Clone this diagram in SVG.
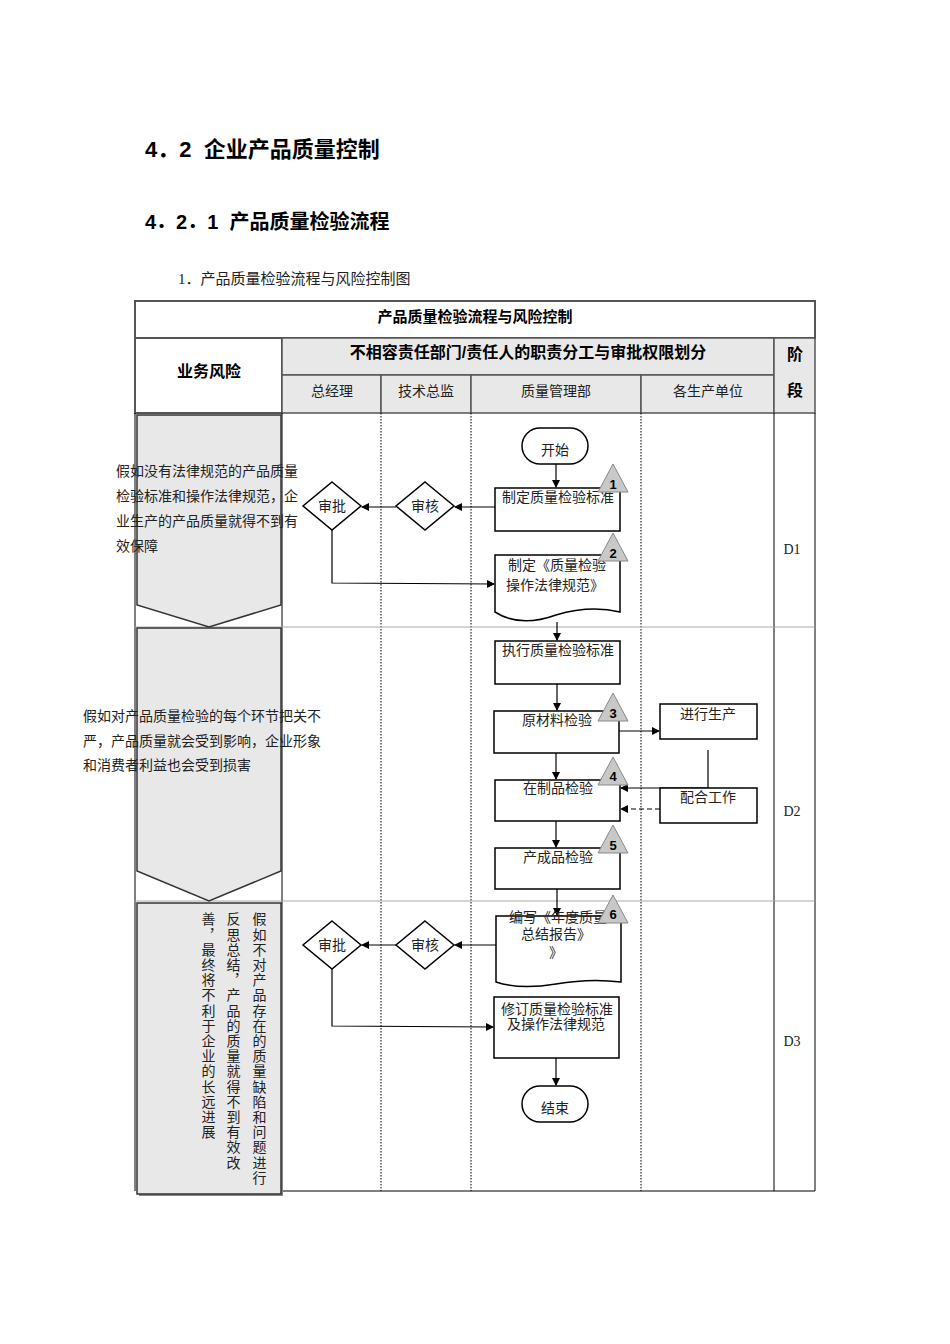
<svg xmlns="http://www.w3.org/2000/svg" width="950" height="1344" viewBox="0 0 950 1344">
<style>
text{font-family:"Liberation Serif","Noto Sans CJK SC",serif;font-size:14px;fill:#222}
.h{font-family:"Liberation Sans","Noto Sans CJK SC",sans-serif;font-weight:bold;fill:#000}
.c{text-anchor:middle}
.box{fill:#fff;stroke:#000;stroke-width:1.5}
.hd{fill:#e8e8e8;stroke:#555;stroke-width:1.5}
.ln{stroke:#000;stroke-width:1.2;fill:none}
.dot{stroke:#000;stroke-width:1;stroke-dasharray:1.5,1.5}
.tri{fill:#c8c8c8;stroke:#888;stroke-width:1}
.risk{fill:#e8e8e8;stroke:#333;stroke-width:1.5}
</style>
<defs><marker id="a" markerWidth="8" markerHeight="8" refX="7" refY="4" orient="auto" markerUnits="userSpaceOnUse"><path d="M0,0L8,4L0,8z" fill="#000"/></marker></defs>
<rect width="950" height="1344" fill="#fff"/>
<text class="h" x="145" y="157" style="font-size:22px">4．2&#160;&#160;企业产品质量控制</text>
<text class="h" x="145" y="229" style="font-size:20px">4．2．1&#160;&#160;产品质量检验流程</text>
<text x="178" y="284" style="font-size:15px">1．产品质量检验流程与风险控制图</text>
<g id="table">
<rect x="135" y="301" width="680" height="37" fill="#fff" stroke="#555" stroke-width="2"/>
<text class="h c" x="475" y="322" style="font-size:15px">产品质量检验流程与风险控制</text>
<rect x="135" y="338" width="147" height="75" fill="#fff" stroke="#555" stroke-width="2"/>
<text class="h c" x="209" y="377" style="font-size:16px">业务风险</text>
<rect x="282" y="338" width="492" height="37" class="hd"/>
<text class="h c" x="528" y="358" style="font-size:16px">不相容责任部门/责任人的职责分工与审批权限划分</text>
<rect x="282" y="375" width="99" height="38" class="hd"/><text class="c" x="332" y="396">总经理</text>
<rect x="381" y="375" width="90" height="38" class="hd"/><text class="c" x="426" y="396">技术总监</text>
<rect x="471" y="375" width="170" height="38" class="hd"/><text class="c" x="556" y="396">质量管理部</text>
<rect x="641" y="375" width="133" height="38" class="hd"/><text class="c" x="708" y="396">各生产单位</text>
<rect x="774" y="338" width="41" height="75" class="hd"/>
<text class="h c" x="795" y="360" style="font-size:16px">阶</text><text class="h c" x="795" y="396" style="font-size:16px">段</text>
<line x1="282" y1="413" x2="282" y2="1191" stroke="#000"/>
<line x1="774" y1="413" x2="774" y2="1191" stroke="#000"/>
<line x1="815" y1="413" x2="815" y2="1191" stroke="#000"/>
<line x1="135" y1="413" x2="135" y2="1191" stroke="#000"/>
<line x1="282" y1="1191" x2="815" y2="1191" stroke="#000"/>
<line x1="381" y1="413" x2="381" y2="1191" class="dot"/>
<line x1="471" y1="413" x2="471" y2="1191" class="dot"/>
<line x1="641" y1="413" x2="641" y2="1191" class="dot"/>
<line x1="135" y1="627" x2="815" y2="627" stroke="#aaa"/>
<line x1="135" y1="901" x2="815" y2="901" stroke="#aaa"/>
<text class="c" x="792" y="554">D1</text>
<text class="c" x="792" y="816">D2</text>
<text class="c" x="792" y="1046">D3</text>
</g>
<g id="risk1"><path class="risk" d="M137,415H281V605L209,627L137,605Z"/>
<text x="116" y="476">假如没有法律规范的产品质量</text><text x="116" y="501">检验标准和操作法律规范，企</text><text x="116" y="526">业生产的产品质量就得不到有</text><text x="116" y="551">效保障</text></g>
<g id="risk2"><path class="risk" d="M137,628H281V871L209,901L137,871Z"/>
<text x="83" y="721">假如对产品质量检验的每个环节把关不</text><text x="83" y="746">严，产品质量就会受到影响，企业形象</text><text x="83" y="770">和消费者利益也会受到损害</text></g>
<g id="risk3"><rect x="139" y="905" width="144" height="291" fill="#888"/><rect class="risk" x="137" y="903" width="144" height="291"/>
<text x="258" y="912" writing-mode="tb" letter-spacing="1.2">假如不对产品存在的质量缺陷和问题进行</text>
<text x="232" y="912" writing-mode="tb" letter-spacing="1.2">反思总结，产品的质量就得不到有效改</text>
<text x="207" y="912" writing-mode="tb" letter-spacing="1.2">善，最终将不利于企业的长远进展</text></g>
<g id="connectors">
<path class="ln" d="M556,464V487" marker-end="url(#a)"/>
<path class="ln" d="M495,507H455" marker-end="url(#a)"/>
<path class="ln" d="M396,507H362" marker-end="url(#a)"/>
<path class="ln" d="M332,530V583L494,584" marker-end="url(#a)"/>
<path class="ln" d="M557,622V640" marker-end="url(#a)"/>
<path class="ln" d="M557,684V710" marker-end="url(#a)"/>
<path class="ln" d="M619,731H659" marker-end="url(#a)"/>
<path class="ln" d="M708,750V788H621" marker-end="url(#a)"/>
<path class="ln" d="M660,809H621" stroke-dasharray="5,3" marker-end="url(#a)"/>
<path class="ln" d="M556,753V779" marker-end="url(#a)"/>
<path class="ln" d="M556,821V847" marker-end="url(#a)"/>
<path class="ln" d="M557,889V915" marker-end="url(#a)"/>
<path class="ln" d="M496,945H455" marker-end="url(#a)"/>
<path class="ln" d="M396,945H362" marker-end="url(#a)"/>
<path class="ln" d="M332,969V1026L493,1027" marker-end="url(#a)"/>
<path class="ln" d="M556,1058V1085" marker-end="url(#a)"/>
</g>
<g id="start"><rect class="box" x="522" y="428" width="66" height="36" rx="18"/><text class="c" x="555" y="455">开始</text></g>
<g id="n1"><rect class="box" x="495" y="488" width="125" height="43"/><text class="c" x="558" y="502">制定质量检验标准</text><path class="tri" d="M613,464L598,492H628Z"/><text class="h c" x="613" y="489" style="font-size:13px">1</text></g>
<g id="d1a"><path class="box" d="M425,482L454,506L425,530L396,506Z"/><text class="c" x="425" y="511">审核</text></g>
<g id="d1b"><path class="box" d="M332,482L361,506L332,530L303,506Z"/><text class="c" x="332" y="511">审批</text></g>
<g id="n2"><path class="box" d="M495,555H620V612Q590,605 556,615Q520,628 495,612Z"/><text class="c" x="557" y="570">制定《质量检验</text><text class="c" x="555" y="590">操作法律规范》</text><path class="tri" d="M613,533L598,561H628Z"/><text class="h c" x="613" y="558" style="font-size:13px">2</text></g>
<g id="n3"><rect class="box" x="495" y="641" width="125" height="43"/><text class="c" x="558" y="655">执行质量检验标准</text></g>
<g id="n4"><rect class="box" x="494" y="711" width="125" height="42"/><text class="c" x="557" y="725">原材料检验</text><path class="tri" d="M613,693L598,721H628Z"/><text class="h c" x="613" y="718" style="font-size:13px">3</text></g>
<g id="n5"><rect class="box" x="660" y="704" width="97" height="35"/><text class="c" x="708" y="719">进行生产</text></g>
<g id="n6"><rect class="box" x="495" y="780" width="125" height="41"/><text class="c" x="558" y="793">在制品检验</text><path class="tri" d="M613,757L598,785H628Z"/><text class="h c" x="613" y="781" style="font-size:13px">4</text></g>
<g id="n7"><rect class="box" x="660" y="788" width="97" height="35"/><text class="c" x="708" y="802">配合工作</text></g>
<g id="n8"><rect class="box" x="495" y="848" width="125" height="41"/><text class="c" x="558" y="862">产成品检验</text><path class="tri" d="M613,825L598,853H628Z"/><text class="h c" x="613" y="850" style="font-size:13px">5</text></g>
<g id="n9"><path class="box" d="M496,916H621V982Q590,978 556,984Q520,990 496,982Z"/><text class="c" x="558" y="922">编写《年度质量</text><text class="c" x="556" y="939">总结报告》</text><text class="c" x="556" y="957">》</text><path class="tri" d="M613,895L598,923H628Z"/><text class="h c" x="613" y="919" style="font-size:13px">6</text></g>
<g id="d2a"><path class="box" d="M425,921L454,945L425,969L396,945Z"/><text class="c" x="425" y="950">审核</text></g>
<g id="d2b"><path class="box" d="M332,921L361,945L332,969L303,945Z"/><text class="c" x="332" y="950">审批</text></g>
<g id="n10"><rect class="box" x="494" y="997" width="125" height="61"/><text class="c" x="557" y="1014">修订质量检验标准</text><text class="c" x="556" y="1029">及操作法律规范</text></g>
<g id="end"><rect class="box" x="522" y="1086" width="66" height="36" rx="18"/><text class="c" x="555" y="1113">结束</text></g>
</svg>
